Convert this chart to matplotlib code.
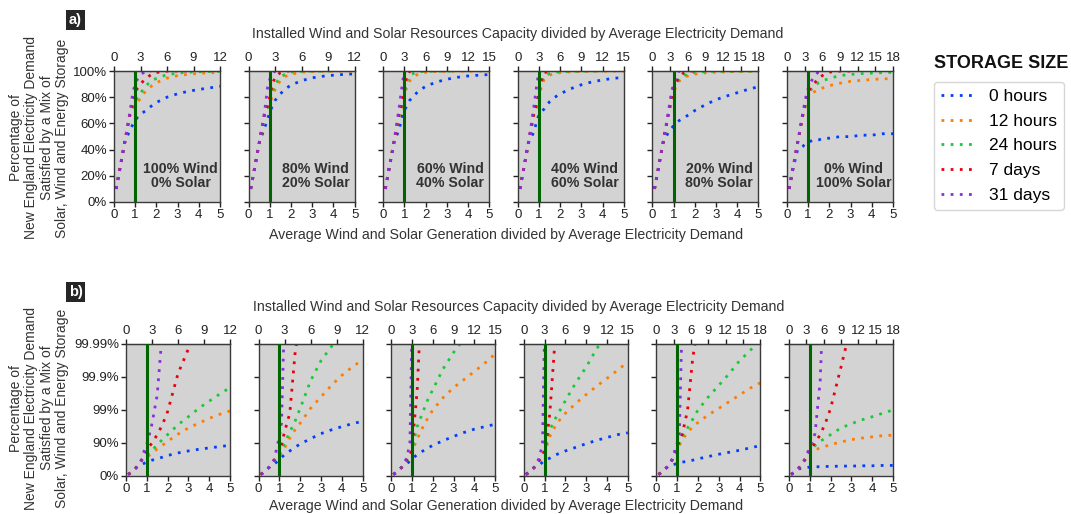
import numpy as np
import matplotlib.pyplot as plt
from matplotlib.lines import Line2D

plt.rcParams['font.family'] = ['Liberation Sans', 'DejaVu Sans']

nan = np.nan

# average wind + solar generation / average demand (bottom axis)
GEN = [0.1, 0.25, 0.5, 0.75, 0.9, 1.0, 1.1, 1.25, 1.5, 1.75, 2.0, 2.5, 3.0, 3.5, 4.0, 4.5, 5.0]

MIXES = ['100% Wind\n0% Solar', '80% Wind\n20% Solar', '60% Wind\n40% Solar',
         '40% Wind\n60% Solar', '20% Wind\n80% Solar', '0% Wind\n100% Solar']
# installed capacity per unit of average generation, for the top axis
CAP_FACTOR = [2.4, 2.4, 3.0, 3.0, 3.6, 3.6]
CAP_TICKS = [[0, 3, 6, 9, 12], [0, 3, 6, 9, 12], [0, 3, 6, 9, 12, 15],
             [0, 3, 6, 9, 12, 15], [0, 3, 6, 9, 12, 15, 18], [0, 3, 6, 9, 12, 15, 18]]

STORAGE = ['0 hours', '12 hours', '24 hours', '7 days', '31 days']
COLORS = ['#023eff', '#ff7c00', '#1ac938', '#e8000b', '#8b2be2']

# % of demand satisfied, one list per storage size (0h, 12h, 24h, 7d, 31d)
W100 = [
    [10, 23, 45, 55.0, 59.5, 62.0, 64.5, 66.9, 69.8, 73.1, 76.0, 80.0, 82.6, 84.5, 85.9, 87.1, 88.3],
    [10, 23, 45, 66.0, 68.4, 71.8, 76.0, 79.1, 84.9, 88.3, 91.1, 94.6, 96.5, 97.5, 98.2, 98.65, 98.93],
    [10, 23, 45, 66.5, 71.8, 76.0, 79.6, 83.0, 88.8, 92.1, 94.4, 97.2, 98.4, 99.11, 99.46, 99.67, 99.79],
    [10, 23, 45, 67.0, 76.0, 82.2, 86.8, 90.0, 94.4, 97.2, 98.88, 99.921, 99.986, 99.9975, nan, nan, nan],
    [10, 23, 45, 68.4, 84.9, 89.3, 93.7, 97.4, 99.65, 99.996, nan, nan, nan, nan, nan, nan, nan],
]
W80 = [
    [10, 23, 45, 56.3, 63.7, 68.4, 72.5, 77.6, 82.6, 86.5, 89.3, 92.6, 94.8, 96.0, 96.8, 97.4, 97.8],
    [10, 23, 45, 66.0, 69.8, 74.9, 80.0, 85.9, 92.9, 96.0, 97.5, 99.11, 99.60, 99.82, 99.911, 99.950, 99.970],
    [10, 23, 45, 66.5, 71.8, 77.6, 83.4, 90.0, 95.3, 97.8, 99.11, 99.87, 99.968, 99.988, 99.996, nan, nan],
    [10, 23, 45, 67.0, 73.7, 80.0, 88.8, 95.5, 98.74, 99.980, 99.9984, nan, nan, nan, nan, nan, nan],
    [10, 23, 45, 68.4, 88.0, 93.7, 97.5, 99.999, nan, nan, nan, nan, nan, nan, nan, nan, nan],
]
W60 = [
    [10, 23, 45, 55.3, 66.1, 69.8, 73.1, 77.6, 82.2, 85.5, 88.3, 91.5, 93.7, 95.2, 96.2, 96.8, 97.3],
    [10, 23, 45, 66.0, 71.8, 80.0, 87.4, 92.4, 96.5, 98.2, 99.0, 99.58, 99.79, 99.88, 99.932, 99.962, 99.980],
    [10, 23, 45, 66.5, 73.7, 82.2, 92.1, 96.8, 98.74, 99.50, 99.76, 99.944, 99.982, 99.993, nan, nan, nan],
    [10, 23, 45, 67.0, 76.0, 85.9, 97.2, 99.75, 99.9999, nan, nan, nan, nan, nan, nan, nan, nan],
    [10, 23, 45, 71.8, 90.0, 99.9968, nan, nan, nan, nan, nan, nan, nan, nan, nan, nan, nan],
]
W40 = [
    [10, 23, 45, 53.2, 62.0, 66.9, 68.4, 71.2, 76.6, 80.0, 82.6, 86.5, 89.5, 91.7, 93.2, 94.4, 95.1],
    [10, 23, 45, 66.0, 71.8, 77.6, 87.4, 93.7, 96.8, 98.1, 98.74, 99.37, 99.66, 99.81, 99.89, 99.937, 99.965],
    [10, 23, 45, 66.5, 74.9, 82.2, 91.1, 96.0, 98.1, 99.0, 99.48, 99.85, 99.950, 99.986, 99.995, nan, nan],
    [10, 23, 45, 67.0, 76.0, 84.2, 92.1, 98.74, 99.992, nan, nan, nan, nan, nan, nan, nan, nan],
    [10, 23, 45, 71.8, 90.0, 99.9968, nan, nan, nan, nan, nan, nan, nan, nan, nan, nan, nan],
]
W20 = [
    [10, 23, 45, 53.2, 56.3, 58.3, 60.2, 62.0, 64.5, 66.9, 69.8, 74.3, 78.1, 80.9, 83.4, 85.9, 88.0],
    [10, 23, 45, 66.0, 76.0, 82.2, 88.0, 92.1, 95.2, 96.8, 97.6, 98.6, 99.11, 99.44, 99.65, 99.78, 99.85],
    [10, 23, 45, 66.5, 77.6, 84.2, 90.0, 93.7, 96.5, 98.1, 99.0, 99.60, 99.82, 99.921, 99.968, 99.984, 99.993],
    [10, 23, 45, 67.0, 80.0, 87.4, 91.1, 94.8, 99.0, 99.975, 99.9968, nan, nan, nan, nan, nan, nan],
    [10, 23, 45, 68.4, 84.2, 90.0, 94.4, 99.999, nan, nan, nan, nan, nan, nan, nan, nan, nan],
]
W0 = [
    [10, 23, 40, 42.5, 45.0, 46.3, 46.3, 47.5, 47.5, 48.7, 48.7, 49.9, 49.9, 51.0, 51.0, 52.1, 52.1],
    [10, 23, 45, 66.0, 74.9, 80.0, 81.8, 83.8, 85.9, 87.4, 88.8, 90.7, 92.1, 92.9, 93.5, 94.0, 94.2],
    [10, 23, 45, 66.5, 76.0, 82.2, 85.2, 88.0, 91.1, 92.9, 94.4, 96.5, 97.4, 98.0, 98.4, 98.74, 99.0],
    [10, 23, 45, 67.0, 77.6, 84.2, 86.8, 90.0, 94.4, 97.5, 99.11, 99.950, 99.9975, nan, nan, nan, nan],
    [10, 23, 45, 68.4, 80.9, 86.8, 91.1, 94.8, 99.87, 99.99999, nan, nan, nan, nan, nan, nan, nan],
]
PANELS = [W100, W80, W60, W40, W20, W0]


def nines(p):
    return -np.log10(np.clip(1 - np.asarray(p, dtype=float) / 100, 1e-9, None))


def from_nines(n):
    return 100 * (1 - 10 ** (-np.asarray(n, dtype=float)))


DOTS = (0, (1, 2.3))
SPINE = '#3a3a3a'
TXT = '#333333'

fig = plt.figure(figsize=(10.71, 5.14), dpi=100)
W, H = 1071, 514


def make_axes(left, top, width, height):
    return fig.add_axes([left / W, 1 - (top + height) / H, width / W, height / H])


def style(ax, factor, ticks):
    ax.set_facecolor('#d3d3d3')
    ax.set_xlim(0, 5)
    ax.set_xticks(range(6))
    for s in ax.spines.values():
        s.set_color(SPINE)
        s.set_linewidth(1.0)
    ax.tick_params(colors='#222222', labelsize=9.5, length=3.5, width=1, pad=1.5)
    ax.axvline(1, color='#006400', lw=2.2, zorder=4)
    sec = ax.secondary_xaxis('top', functions=(lambda x, f=factor: x * f,
                                               lambda x, f=factor: x / f))
    sec.set_xticks(ticks)
    sec.tick_params(colors='#222222', labelsize=9.5, length=3.5, width=1, pad=1.5)
    sec.spines['top'].set_color(SPINE)


for i in range(6):
    # row a: linear percentage
    ax = make_axes(114 + 134.6 * i, 71, 106, 131)
    for vals, col, lab in zip(PANELS[i], COLORS, STORAGE):
        ax.plot(GEN, vals, color=col, lw=2.0, ls=DOTS, label=lab)
    ax.set_ylim(0, 100)
    ax.set_yticks(range(0, 101, 20))
    style(ax, CAP_FACTOR[i], CAP_TICKS[i])
    if i == 0:
        ax.set_yticklabels([f'{v}%' for v in range(0, 101, 20)])
    else:
        ax.set_yticklabels([])
    ax.text(0.63, 0.2, MIXES[i], transform=ax.transAxes, ha='center', va='center',
            fontsize=10.2, fontweight='bold', color=TXT, linespacing=1.05)

    # row b: "nines" of reliability
    bx = make_axes(126 + 132.6 * i, 344, 104, 132)
    bx.set_yscale('function', functions=(nines, from_nines))
    for vals, col, lab in zip(PANELS[i], COLORS, STORAGE):
        bx.plot(GEN, vals, color=col, lw=2.0, ls=DOTS, label=lab)
    bx.set_ylim(0, 99.99)
    bx.set_yticks([0, 90, 99, 99.9, 99.99])
    bx.minorticks_off()
    style(bx, CAP_FACTOR[i], CAP_TICKS[i])
    if i == 0:
        bx.set_yticklabels(['0%', '90%', '99%', '99.9%', '99.99%'])
    else:
        bx.set_yticklabels([])

ylab = 'Percentage of\nNew England Electricity Demand\nSatisfied by a Mix of\nSolar, Wind and Energy Storage'
fig.text(39 / W, 1 - 138 / H, ylab, rotation=90, ha='center', va='center',
         fontsize=10, color=TXT, linespacing=1.15)
fig.text(39 / W, 1 - 408 / H, ylab, rotation=90, ha='center', va='center',
         fontsize=10, color=TXT, linespacing=1.15)

top_lab = 'Installed Wind and Solar Resources Capacity divided by Average Electricity Demand'
bot_lab = 'Average Wind and Solar Generation divided by Average Electricity Demand'
fig.text(518 / W, 1 - 34 / H, top_lab, ha='center', va='center', fontsize=10.2, color=TXT)
fig.text(506 / W, 1 - 235 / H, bot_lab, ha='center', va='center', fontsize=10.2, color=TXT)
fig.text(519 / W, 1 - 307 / H, top_lab, ha='center', va='center', fontsize=10.2, color=TXT)
fig.text(506 / W, 1 - 506 / H, bot_lab, ha='center', va='center', fontsize=10.2, color=TXT)

for lab, y in [('a)', 20), ('b)', 292)]:
    fig.text(75.5 / W, 1 - y / H, lab, ha='center', va='center', fontsize=10.5,
             fontweight='bold', color='white',
             bbox=dict(boxstyle='square,pad=0.18', fc='#262626', ec='none'))

fig.text(1001 / W, 1 - 63 / H, 'STORAGE SIZE', ha='center', va='center',
         fontsize=13, fontweight='bold', color='#111111')
handles = [Line2D([], [], color=c, lw=2.0, ls=DOTS) for c in COLORS]
fig.legend(handles, STORAGE, loc='upper left', bbox_to_anchor=(934 / W, 1 - 82 / H),
           borderaxespad=0, frameon=True, fontsize=12.5, handlelength=2.0,
           labelspacing=0.55, handletextpad=0.75, borderpad=0.4,
           edgecolor='#cccccc', fancybox=True)

fig.savefig('out.png', dpi=100)
